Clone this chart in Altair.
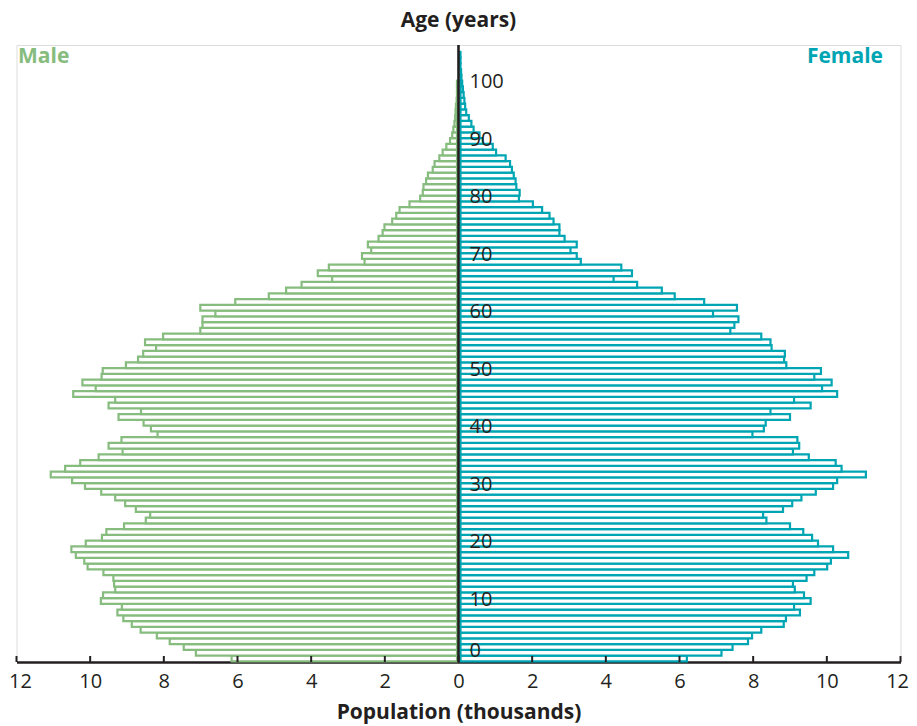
import altair as alt
import pandas as pd

# ---------------- data ----------------
ages = list(range(106))
male = [
    6.16, 7.13, 7.46, 7.84, 8.19, 8.63, 8.87, 9.10, 9.26, 9.14,
    9.71, 9.65, 9.32, 9.35, 9.37, 9.64, 10.07, 10.16, 10.39, 10.51,
    10.12, 9.68, 9.56, 9.08, 8.49, 8.37, 8.76, 9.05, 9.32, 9.70,
    10.14, 10.49, 11.07, 10.68, 10.27, 9.77, 9.12, 9.50, 9.15, 8.17,
    8.35, 8.55, 9.23, 8.62, 9.50, 9.32, 10.46, 9.85, 10.21, 9.69,
    9.66, 9.03, 8.70, 8.56, 8.21, 8.51, 8.02, 7.01, 6.95, 6.95,
    6.60, 7.01, 6.06, 5.15, 4.68, 4.26, 3.43, 3.82, 3.52, 2.55,
    2.62, 2.37, 2.46, 2.17, 2.06, 2.01, 1.80, 1.69, 1.60, 1.33,
    1.04, 0.97, 0.95, 0.88, 0.83, 0.70, 0.65, 0.52, 0.43, 0.33,
    0.23, 0.17, 0.14, 0.11, 0.09, 0.08, 0.07, 0.05, 0.04, 0.03,
    0.02, 0, 0, 0, 0, 0,
]
female = [
    6.20, 7.14, 7.44, 7.86, 7.97, 8.22, 8.83, 8.89, 9.27, 9.11,
    9.56, 9.38, 9.13, 9.08, 9.45, 9.66, 10.01, 10.11, 10.58, 10.17,
    9.76, 9.60, 9.36, 9.00, 8.36, 8.27, 8.81, 9.06, 9.31, 9.70,
    10.17, 10.28, 11.06, 10.40, 10.24, 9.51, 9.08, 9.25, 9.20, 7.98,
    8.29, 8.34, 9.00, 8.47, 9.56, 9.11, 10.28, 9.87, 10.13, 9.66,
    9.84, 8.90, 8.84, 8.86, 8.50, 8.47, 8.22, 7.38, 7.49, 7.60,
    6.91, 7.56, 6.67, 5.87, 5.52, 4.85, 4.21, 4.71, 4.42, 3.32,
    3.21, 3.04, 3.21, 2.88, 2.74, 2.74, 2.58, 2.47, 2.27, 2.02,
    1.64, 1.66, 1.57, 1.55, 1.50, 1.45, 1.40, 1.28, 1.02, 0.93,
    0.66, 0.57, 0.41, 0.35, 0.28, 0.21, 0.18, 0.16, 0.14, 0.12,
    0.10, 0.08, 0.07, 0.05, 0.04, 0.03,
]
x_ticks = [-12, -10, -8, -6, -4, -2, 0, 2, 4, 6, 8, 10, 12]
age_ticks = [10, 20, 30, 40, 50, 60, 70, 80, 90, 100]
age_tick_zero = [0]
top_title = ["Age (years)"]
male_title = ["Male"]
female_title = ["Female"]
x_title = "Population (thousands)"

# ---------------- style ----------------
GREEN = "#86bc7e"
TEAL = "#00a5b4"
INK = "#231f20"
FONT = "Open Sans"
W, H = 884, 617

df = pd.DataFrame({"age": ages, "male": male, "female": female})

xscale = alt.Scale(domain=[-12, 12], nice=False, zero=False)
yscale = alt.Scale(domain=[-0.6, 106.7], nice=False, zero=False)
AX = alt.Axis(
    values=x_ticks,
    labelExpr="format(abs(datum.value), 'd')",
    tickSize=0,
    domainWidth=2.6,
    domainColor=INK,
    labelColor=INK,
    labelFont=FONT,
    labelFontSize=20,
    labelPadding=9,
    labelFlush=True,
    labelFlushOffset=8,
    labelOverlap=False,
    grid=False,
    title=x_title,
    titleFont=FONT,
    titleFontSize=21,
    titleFontWeight="bold",
    titleColor=INK,
    titlePadding=10,
)

base = alt.Chart(df).transform_calculate(
    lo="datum.age - 0.5", hi="datum.age + 0.5", zero="0"
)

male_bars = (
    base.transform_filter("datum.male > 0")
    .transform_calculate(neg="-datum.male")
    .mark_bar(fill="white", stroke=GREEN, strokeWidth=2.2, x2Offset=-1.5)
    .encode(
        x=alt.X("neg:Q", scale=xscale, axis=AX),
        x2="zero:Q",
        y=alt.Y("lo:Q", scale=yscale, axis=None),
        y2="hi:Q",
    )
)

female_bars = (
    base.mark_bar(fill="white", stroke=TEAL, strokeWidth=2.2, xOffset=2)
    .encode(
        x=alt.X("zero:Q", scale=xscale, axis=AX),
        x2="female:Q",
        y=alt.Y("lo:Q", scale=yscale, axis=None),
        y2="hi:Q",
    )
)

ticks = (
    alt.Chart(pd.DataFrame({"t": x_ticks}))
    .mark_rule(color=INK, strokeWidth=2)
    .encode(x=alt.X("t:Q", scale=xscale, axis=AX), y=alt.value(H), y2=alt.value(H - 6))
)

center = (
    alt.Chart(pd.DataFrame({"c": [0]}))
    .mark_rule(color=INK, strokeWidth=2.6)
    .encode(x=alt.X("c:Q", scale=xscale, axis=AX), y=alt.value(0), y2=alt.value(H))
)

age_lab = (
    alt.Chart(pd.DataFrame({"a": age_ticks, "c": [0] * len(age_ticks)}))
    .mark_text(align="left", baseline="middle", dx=11, dy=-1.5,
               font=FONT, fontSize=20, color=INK)
    .encode(x=alt.X("c:Q", scale=xscale, axis=AX),
            y=alt.Y("a:Q", scale=yscale, axis=None), text="a:Q")
)
age_lab0 = (
    alt.Chart(pd.DataFrame({"a": age_tick_zero, "c": [0]}))
    .mark_text(align="left", baseline="middle", dx=11, dy=-8,
               font=FONT, fontSize=20, color=INK)
    .encode(x=alt.X("c:Q", scale=xscale, axis=AX),
            y=alt.Y("a:Q", scale=yscale, axis=None), text="a:Q")
)

t_top = (
    alt.Chart(pd.DataFrame({"t": top_title}))
    .mark_text(align="center", baseline="middle", font=FONT, fontSize=21,
               fontWeight="bold", color=INK)
    .encode(text="t:N", x=alt.value(W / 2), y=alt.value(-24))
)
t_male = (
    alt.Chart(pd.DataFrame({"t": male_title}))
    .mark_text(align="left", baseline="middle", font=FONT, fontSize=21,
               fontWeight="bold", color=GREEN)
    .encode(text="t:N", x=alt.value(1.5), y=alt.value(12))
)
t_female = (
    alt.Chart(pd.DataFrame({"t": female_title}))
    .mark_text(align="right", baseline="middle", font=FONT, fontSize=21,
               fontWeight="bold", color=TEAL)
    .encode(text="t:N", x=alt.value(W - 17.5), y=alt.value(12))
)

chart = (
    alt.layer(male_bars, female_bars, ticks, center, age_lab, age_lab0,
              t_top, t_male, t_female)
    .properties(
        width=W,
        height=H,
        autosize=alt.AutoSizeParams(type="none"),
        padding={"left": 8.5, "top": 37, "right": 8.5, "bottom": 66},
    )
    .configure_view(stroke=None)
    .configure(background="white")
)

chart.save("out.html", embed_options={"renderer": "svg", "actions": False})
